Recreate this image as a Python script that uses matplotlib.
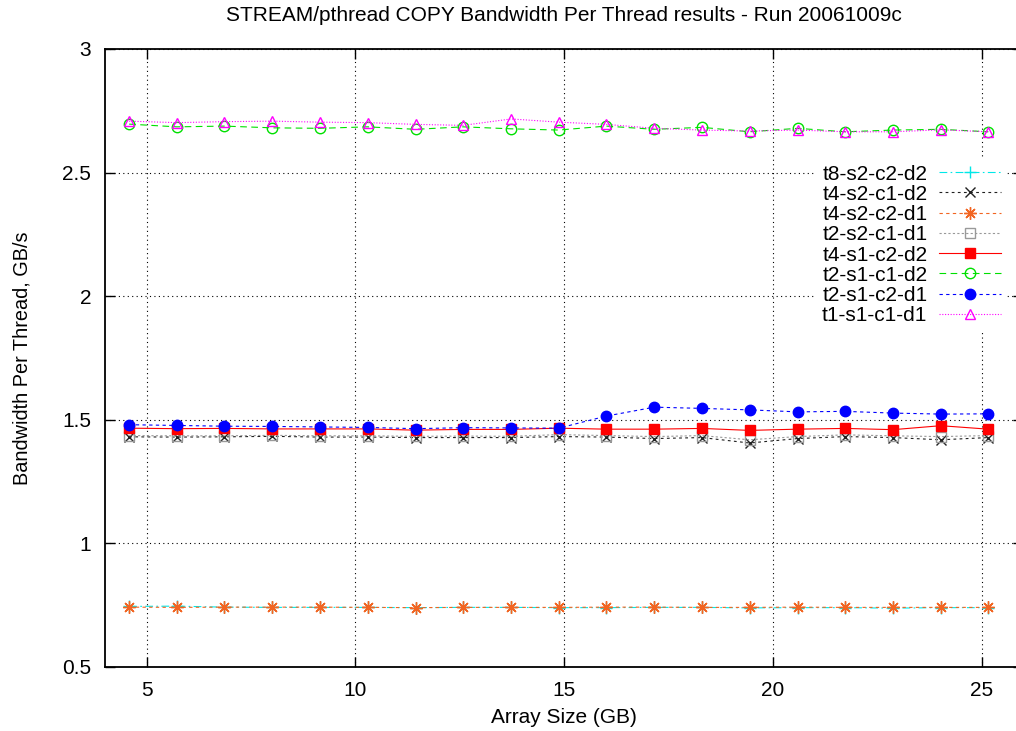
import matplotlib
matplotlib.use("Agg")
import matplotlib.pyplot as plt

plt.rcParams['font.family'] = ['Liberation Sans', 'DejaVu Sans']

# array sizes (GB)
sizes = [4.58, 5.72, 6.86, 8.01, 9.15, 10.29, 11.44, 12.58, 13.73, 14.87,
         16.01, 17.16, 18.30, 19.44, 20.59, 21.73, 22.88, 24.02, 25.16]

# bandwidth per thread, GB/s
t8_s2_c2_d2 = [0.745, 0.746, 0.742, 0.741, 0.741, 0.741, 0.740, 0.741, 0.741, 0.740,
               0.740, 0.741, 0.741, 0.739, 0.740, 0.740, 0.738, 0.740, 0.740]
t4_s2_c1_d2 = [1.431, 1.430, 1.431, 1.433, 1.430, 1.430, 1.428, 1.428, 1.428, 1.432,
               1.430, 1.424, 1.428, 1.406, 1.424, 1.432, 1.428, 1.419, 1.428]
t4_s2_c2_d1 = [0.742, 0.741, 0.742, 0.742, 0.742, 0.741, 0.740, 0.741, 0.741, 0.741,
               0.742, 0.742, 0.741, 0.741, 0.742, 0.741, 0.741, 0.741, 0.741]
t2_s2_c1_d1 = [1.436, 1.435, 1.435, 1.437, 1.435, 1.435, 1.433, 1.434, 1.433, 1.440,
               1.436, 1.432, 1.436, 1.419, 1.432, 1.439, 1.435, 1.432, 1.436]
t4_s1_c2_d2 = [1.466, 1.464, 1.465, 1.463, 1.463, 1.463, 1.458, 1.461, 1.461, 1.466,
               1.462, 1.462, 1.465, 1.457, 1.462, 1.465, 1.460, 1.476, 1.462]
t2_s1_c1_d2 = [2.696, 2.685, 2.688, 2.681, 2.679, 2.685, 2.675, 2.685, 2.677, 2.672,
               2.688, 2.675, 2.683, 2.665, 2.679, 2.665, 2.672, 2.675, 2.665]
t2_s1_c2_d1 = [1.480, 1.477, 1.474, 1.473, 1.471, 1.469, 1.464, 1.468, 1.467, 1.466,
               1.515, 1.551, 1.546, 1.540, 1.532, 1.534, 1.527, 1.523, 1.524]
t1_s1_c1_d1 = [2.708, 2.702, 2.706, 2.708, 2.704, 2.702, 2.695, 2.691, 2.717, 2.704,
               2.695, 2.679, 2.672, 2.668, 2.672, 2.665, 2.665, 2.673, 2.665]

xticks = [5, 10, 15, 20, 25]
yticks = [0.5, 1, 1.5, 2, 2.5, 3]
ytick_labels = ['0.5', '1', '1.5', '2', '2.5', '3']

fig = plt.figure(figsize=(10.16, 7.31), dpi=100)
# right edge of the plot box runs off the image, like the original
ax = fig.add_axes([0.1033, 0.0876, 0.904, 0.8454])

lw = 0.8
ax.plot(sizes, t8_s2_c2_d2, color='#00e8e8', lw=lw, ls=(0, (7, 3, 1.5, 3)),
        marker='+', ms=8, mew=1.0, label='t8-s2-c2-d2')
ax.plot(sizes, t4_s2_c1_d2, color='#202020', lw=lw, ls=(0, (2.5, 3)),
        marker='x', ms=6.5, mew=1.0, label='t4-s2-c1-d2')
ax.plot(sizes, t4_s2_c2_d1, color='#f26522', lw=lw, ls=(0, (3, 3)),
        marker=(8, 2, 0), ms=9, mew=1.0, label='t4-s2-c2-d1')
ax.plot(sizes, t2_s2_c1_d1, color='#999999', lw=lw, ls=(0, (2, 2)),
        marker='s', ms=6.5, mfc='none', mew=1.0, label='t2-s2-c1-d1')
ax.plot(sizes, t4_s1_c2_d2, color='#ff0000', lw=lw, ls='-',
        marker='s', ms=7, label='t4-s1-c2-d2')
ax.plot(sizes, t2_s1_c1_d2, color='#00e000', lw=lw, ls=(0, (6, 4)),
        marker='o', ms=7.5, mfc='none', mew=1.0, label='t2-s1-c1-d2')
ax.plot(sizes, t2_s1_c2_d1, color='#0000ff', lw=lw, ls=(0, (3, 3)),
        marker='o', ms=7.5, label='t2-s1-c2-d1')
ax.plot(sizes, t1_s1_c1_d1, color='#ff00ff', lw=lw, ls=(0, (1, 1.5)),
        marker='^', ms=7.5, mfc='none', mew=1.0, label='t1-s1-c1-d1')

ax.set_xlim(4, 26)
ax.set_ylim(0.5, 3)
ax.set_xticks(xticks)
ax.set_yticks(yticks)
ax.set_yticklabels(ytick_labels)
ax.grid(True, color='black', ls=(0, (1, 3)), lw=0.8)
ax.tick_params(direction='in', length=7, width=1.0, labelsize=15, pad=10,
               top=True, right=True)
for s in ax.spines.values():
    s.set_linewidth(1.3)

ax.set_title('STREAM/pthread COPY Bandwidth Per Thread results - Run 20061009c',
             fontsize=15, pad=20)
ax.set_xlabel('Array Size (GB)', fontsize=15, labelpad=6)
ax.set_ylabel('Bandwidth Per Thread, GB/s', fontsize=14.3, labelpad=22)

leg = ax.legend(loc='upper right', bbox_to_anchor=(0.994, 0.84),
                markerfirst=False, fontsize=15, handlelength=3.0,
                handletextpad=0.55, labelspacing=0.06, borderpad=0.3,
                frameon=True, fancybox=False, framealpha=1)
leg.get_frame().set_edgecolor('none')
leg.get_frame().set_facecolor('white')

fig.savefig('out.png', dpi=100)
